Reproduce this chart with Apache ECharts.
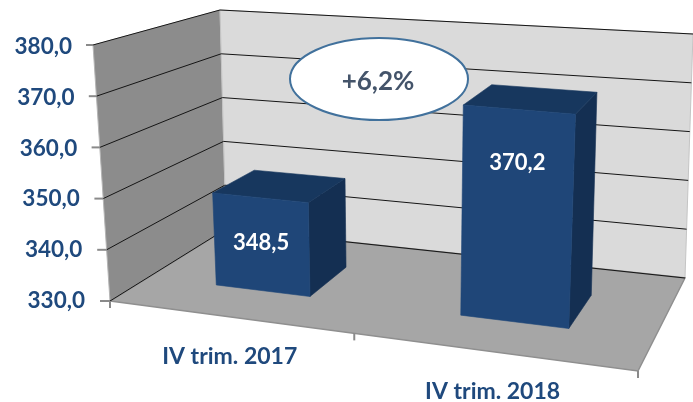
<!DOCTYPE html>
<html><head><meta charset="utf-8">
<style>html,body{margin:0;padding:0;background:#fff}#c{width:693px;height:402px}</style>
<script src="https://cdn.jsdelivr.net/npm/echarts@6/dist/echarts.min.js"></script>
</head><body><div id="c"></div>
<script>
// ---- data ----
const categories = ['IV trim. 2017', 'IV trim. 2018'];
const values = [348.5, 370.2];
const valueLabels = ['348,5', '370,2'];
const yTicks = [330, 340, 350, 360, 370, 380];
const yTickLabels = ['330,0', '340,0', '350,0', '360,0', '370,0', '380,0'];
const changeLabel = '+6,2%';

// ---- view (perspective box: floor corners on screen and the rise of each corner) ----
const floorQuad = [[110, 301], [638, 371], [685, 278], [226, 229]];
const riseQuad = [[-17, -256], [14, -282], [8, -244], [-6, -219]];
const depthFront = 0.305, depthBack = 0.68, barBandShare = 0.4;
const labelAnchor = [339.6, 360];
const FONT = 'Lato, "Open Sans", sans-serif';

function homography(q) {
  const [A, B, C, D] = q;
  const dx1 = [B[0] - C[0], B[1] - C[1]], dx2 = [D[0] - C[0], D[1] - C[1]];
  const s = [A[0] - B[0] + C[0] - D[0], A[1] - B[1] + C[1] - D[1]];
  const det = dx1[0] * dx2[1] - dx1[1] * dx2[0];
  const g = (s[0] * dx2[1] - s[1] * dx2[0]) / det;
  const h = (dx1[0] * s[1] - dx1[1] * s[0]) / det;
  const a = [B[0] - A[0] + g * B[0], B[1] - A[1] + g * B[1]];
  const b = [D[0] - A[0] + h * D[0], D[1] - A[1] + h * D[1]];
  return (u, d) => {
    const w = g * u + h * d + 1;
    return [(a[0] * u + b[0] * d + A[0]) / w, (a[1] * u + b[1] * d + A[1]) / w];
  };
}
const Hf = homography(floorQuad);
function rise(u, d, k) {
  const [A, B, C, D] = riseQuad;
  return (A[k] * (1 - u) + B[k] * u) * (1 - d) + (D[k] * (1 - u) + C[k] * u) * d;
}
function P(u, d, h) {
  const f = Hf(u, d);
  return [f[0] + rise(u, d, 0) * h, f[1] + rise(u, d, 1) * h];
}
function toUH(params, p) {
  const s = params.coordSys;
  return [(p[0] - s.x) / s.width, (s.y + s.height - p[1]) / s.height];
}
const poly = (points, fill, stroke, lw) => ({
  type: 'polygon', shape: { points },
  style: { fill, stroke: stroke || fill, lineWidth: lw === undefined ? 0.6 : lw }
});
const line = (a, b, stroke, lineWidth) => ({
  type: 'line', shape: { x1: a[0], y1: a[1], x2: b[0], y2: b[1] },
  style: { stroke, lineWidth: lineWidth || 1 }
});
const txt = (x, y, text, fill, size, align) => ({
  type: 'text', style: { x, y, text, fill, font: 'bold ' + size + 'px ' + FONT, align: align || 'center', verticalAlign: 'middle' }
});

const backdrop = {
  type: 'custom', coordinateSystem: 'cartesian2d', silent: true, data: [[0, 330]], z: 1,
  renderItem() {
    return { type: 'group', children: [
      poly([P(0, 0, 0), P(0, 0, 1), P(0, 1, 1), P(0, 1, 0)], '#8c8c8c', '#b5b5b5', 1),
      poly([P(0, 1, 0), P(0, 1, 1), P(1, 1, 1), P(1, 1, 0)], '#dadada', '#c4c4c4', 1),
      poly([P(0, 0, 0), P(1, 0, 0), P(1, 1, 0), P(0, 1, 0)], '#a6a6a6', '#8f8f8f', 1.5)
    ] };
  }
};
const gridSeries = {
  type: 'custom', coordinateSystem: 'cartesian2d', silent: true, z: 2,
  data: yTicks.map(v => [0, v]), encode: { x: 0, y: 1 },
  renderItem(params, api) {
    const h = toUH(params, api.coord([0, api.value(1)]))[1];
    const e = P(0, 0, h);
    const tickLen = 10 - 3 * h;
    return { type: 'group', children: [
      line(P(0, 0, h), P(0, 1, h), '#151515', 1),
      line(P(0, 1, h), P(1, 1, h), '#151515', 1),
      line([e[0] - tickLen, e[1]], e, '#8a8a8a', 2),
      txt(e[0] - 25 + 4 * h, e[1] + 1.5 * h, yTickLabels[params.dataIndex], '#1f497d', 22.5, 'right')
    ] };
  }
};
const barSeries = {
  type: 'custom', coordinateSystem: 'cartesian2d', silent: true, z: 3,
  data: values.map((v, i) => [i, v]), encode: { x: 0, y: 1 },
  renderItem(params, api) {
    const i = api.value(0), v = api.value(1);
    const p = api.coord([i, v]);
    const band = api.size([1, 0])[0] * barBandShare;
    const s = params.coordSys;
    const u0 = (p[0] - band / 2 - s.x) / s.width, u1 = (p[0] + band / 2 - s.x) / s.width;
    const h = toUH(params, p)[1];
    const d0 = depthFront, d1 = depthBack;
    const an = toUH(params, api.coord([i, labelAnchor[i]]))[1];
    const lp = P((u0 + u1) / 2, d0, an);
    return { type: 'group', children: [
      poly([P(u1, d0, 0), P(u1, d0, h), P(u1, d1, h), P(u1, d1, 0)], '#142f52'),
      poly([P(u0, d0, h), P(u1, d0, h), P(u1, d1, h), P(u0, d1, h)], '#17375e'),
      poly([P(u0, d0, 0), P(u1, d0, 0), P(u1, d0, h), P(u0, d0, h)], '#1f4678'),
      txt(lp[0], lp[1], valueLabels[i], '#ffffff', 22)
    ] };
  }
};
const catSeries = {
  type: 'custom', coordinateSystem: 'cartesian2d', silent: true, z: 2,
  data: categories.map((c, i) => [i, yTicks[0]]), encode: { x: 0, y: 1 },
  renderItem(params, api) {
    const c = api.coord([api.value(0), api.value(1)]);
    const s = params.coordSys;
    const u = (c[0] - s.x) / s.width;
    const band = api.size([1, 0])[0] / s.width;
    const a = P(u, 0, 0), L = P(u - band / 2, 0, 0), R = P(u + band / 2, 0, 0);
    const kids = [
      line(L, [L[0], L[1] + 7], '#8a8a8a', 2),
      txt(a[0] + 2, a[1] + 40, categories[params.dataIndex], '#1f497d', 23)
    ];
    if (params.dataIndex === categories.length - 1) kids.push(line(R, [R[0], R[1] + 7], '#8a8a8a', 2));
    return { type: 'group', children: kids };
  }
};

echarts.init(document.getElementById('c'), null, { renderer: 'canvas' }).setOption({
  animation: false,
  backgroundColor: '#fff',
  grid: { left: 0, right: 0, top: 0, bottom: 0 },
  xAxis: { type: 'category', data: categories, show: false },
  yAxis: { type: 'value', min: 330, max: 380, interval: 10, show: false },
  series: [backdrop, gridSeries, catSeries, barSeries],
  graphic: [
    { type: 'ellipse', z: 10, shape: { cx: 379, cy: 79, rx: 89, ry: 41 },
      style: { fill: '#fff', stroke: '#41719c', lineWidth: 2 } },
    { type: 'text', z: 11, x: 378, y: 82,
      style: { text: changeLabel, fill: '#44546a', font: 'bold 26px ' + FONT, align: 'center', verticalAlign: 'middle' } }
  ]
});
</script></body></html>
